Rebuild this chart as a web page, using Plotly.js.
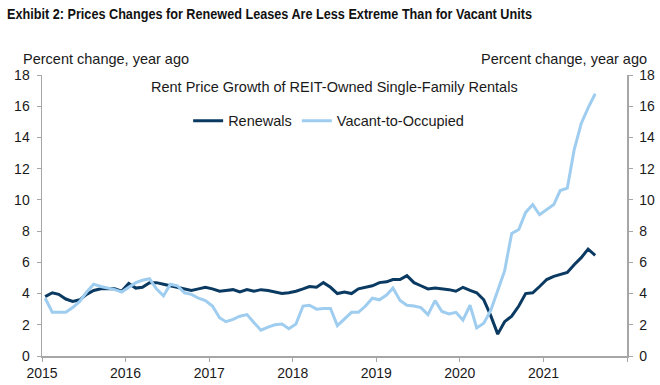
<!DOCTYPE html>
<html>
<head>
<meta charset="utf-8">
<script src="https://cdn.plot.ly/plotly-3.0.1.min.js"></script>
<style>
  html, body { margin: 0; padding: 0; background: #ffffff; }
  #chart { width: 660px; height: 385px; }
</style>
</head>
<body>
<div id="chart"></div>
<script>
// Monthly series, Jan 2015 - Aug 2021 (percent change, year ago)
const startYear = 2015;
const startMonth = 1;
const renewals = [
  3.8, 4.05, 3.95, 3.65, 3.5, 3.6, 3.95, 4.2, 4.3, 4.3, 4.3, 4.15,
  4.65, 4.35, 4.4, 4.7, 4.7, 4.6, 4.5, 4.4, 4.3, 4.2, 4.3, 4.4,
  4.3, 4.15, 4.2, 4.25, 4.1, 4.25, 4.15, 4.25, 4.2, 4.1, 4.0, 4.05,
  4.15, 4.3, 4.45, 4.4, 4.7, 4.4, 4.0, 4.1, 4.0, 4.3, 4.4, 4.5,
  4.7, 4.75, 4.9, 4.9, 5.15, 4.7, 4.5, 4.3, 4.35, 4.3, 4.25, 4.15,
  4.4, 4.2, 4.05, 3.6, 2.6, 1.4, 2.2, 2.55, 3.2, 4.0, 4.05, 4.45,
  4.9, 5.1, 5.2, 5.35, 5.85, 6.3, 6.85, 6.45
];
const vacantToOccupied = [
  3.7, 2.8, 2.8, 2.8, 3.1, 3.5, 4.1, 4.6, 4.45, 4.35, 4.25, 4.1,
  4.4, 4.7, 4.85, 4.95, 4.3, 3.85, 4.6, 4.5, 4.05, 3.95, 3.7, 3.55,
  3.2, 2.45, 2.2, 2.35, 2.55, 2.65, 2.15, 1.65, 1.85, 2.0, 2.05, 1.75,
  2.05, 3.2, 3.25, 3.0, 3.05, 3.05, 1.95, 2.35, 2.8, 2.8, 3.2, 3.7,
  3.6, 3.9, 4.35, 3.55, 3.25, 3.2, 3.1, 2.65, 3.55, 2.85, 2.7, 2.8,
  2.3, 3.25, 1.8, 2.1, 2.9, 4.2, 5.45, 7.85, 8.1, 9.2, 9.7, 9.05,
  9.35, 9.7, 10.6, 10.75, 13.2, 14.9, 15.9, 16.8
];
const seriesNames = ['Renewals', 'Vacant-to-Occupied'];
const xTickVals = ['2015-01-01','2016-01-01','2017-01-01','2018-01-01','2019-01-01','2020-01-01','2021-01-01','2022-01-01'];
const xTickText = ['2015','2016','2017','2018','2019','2020','2021',''];
const yTickVals = [0, 2, 4, 6, 8, 10, 12, 14, 16, 18];

const chartTitle = 'Exhibit 2: Prices Changes for Renewed Leases Are Less Extreme Than for Vacant Units';
const subTitle = 'Rent Price Growth of REIT-Owned Single-Family Rentals';
const axisLabel = 'Percent change, year ago';

// month dates (mid-month)
const dates = renewals.map((_, i) => {
  const m = startMonth - 1 + i;
  const y = startYear + Math.floor(m / 12);
  const mm = String((m % 12) + 1).padStart(2, '0');
  return y + '-' + mm + '-15';
});

const DARK = '#0a3a62';
const LIGHT = '#9fcdf0';
const AXIS = '#a6a6a6';
const FONT = 'Liberation Sans, Arial, sans-serif';
const TXT = '#1a1a1a';

const traces = [
  { x: dates, y: renewals, name: seriesNames[0], type: 'scatter', mode: 'lines',
    line: { color: DARK, width: 3 }, hoverinfo: 'skip' },
  { x: dates, y: vacantToOccupied, name: seriesNames[1], type: 'scatter', mode: 'lines',
    line: { color: LIGHT, width: 3 }, hoverinfo: 'skip' },
  { x: dates, y: renewals, yaxis: 'y2', type: 'scatter', mode: 'lines',
    line: { width: 0, color: 'rgba(0,0,0,0)' }, showlegend: false, hoverinfo: 'skip' }
];

const yCommon = {
  range: [0, 18], tickvals: yTickVals, ticks: 'outside', ticklen: 4, tickcolor: AXIS,
  showline: true, linecolor: AXIS, linewidth: 1.5, showgrid: false, zeroline: false,
  tickfont: { family: FONT, size: 14, color: TXT }, ticklabelstandoff: 4, fixedrange: true
};

const layout = {
  width: 660, height: 385,
  margin: { l: 42, r: 33, t: 75, b: 28.5, pad: 0 },
  paper_bgcolor: '#ffffff', plot_bgcolor: '#ffffff',
  font: { family: FONT, size: 14.5, color: TXT },
  title: {
    text: '<b>' + chartTitle + '</b>',
    font: { family: FONT, size: 14, color: '#111' },
    xref: 'container', yref: 'container', x: 7 / 660, xanchor: 'left', y: 1 - 14 / 385, yanchor: 'middle'
  },
  xaxis: {
    type: 'date', range: ['2015-01-01', '2022-01-01'],
    tickvals: xTickVals, ticktext: xTickText, ticks: 'outside', ticklen: 4, tickcolor: AXIS,
    showline: true, linecolor: AXIS, linewidth: 1.5, showgrid: false, zeroline: false,
    tickfont: { family: FONT, size: 14, color: TXT }, ticklabelstandoff: 0, fixedrange: true
  },
  yaxis: Object.assign({}, yCommon, { side: 'left' }),
  yaxis2: Object.assign({}, yCommon, { side: 'right', overlaying: 'y' }),
  showlegend: true,
  legend: {
    orientation: 'h', x: 0.49, xanchor: 'center', y: 0.837, yanchor: 'middle',
    bgcolor: 'rgba(0,0,0,0)', font: { family: FONT, size: 14.5, color: TXT },
    itemclick: false, itemdoubleclick: false
  },
  annotations: [
    { text: axisLabel, xref: 'paper', yref: 'paper', x: (20.7 - 42) / 585, xanchor: 'left',
      y: (356.5 - 59) / 281.5, yanchor: 'middle', showarrow: false,
      font: { family: FONT, size: 14.5, color: TXT } },
    { text: axisLabel, xref: 'paper', yref: 'paper', x: (649 - 42) / 585, xanchor: 'right',
      y: (356.5 - 59) / 281.5, yanchor: 'middle', showarrow: false,
      font: { family: FONT, size: 14.5, color: TXT } },
    { text: subTitle, xref: 'paper', yref: 'paper', x: (334 - 42) / 585, xanchor: 'center',
      y: (356.5 - 87) / 281.5, yanchor: 'middle', showarrow: false,
      font: { family: FONT, size: 14.5, color: TXT } }
  ]
};

Plotly.newPlot('chart', traces, layout, { displayModeBar: false, staticPlot: true }).then(function (gd) {
  // emulate the narrow (condensed) bold face of the original title
  const t = gd.querySelector('.g-gtitle text.gtitle');
  if (t) {
    t.setAttribute('textLength', '525');
    t.setAttribute('lengthAdjust', 'spacingAndGlyphs');
  }
});
</script>
</body>
</html>
